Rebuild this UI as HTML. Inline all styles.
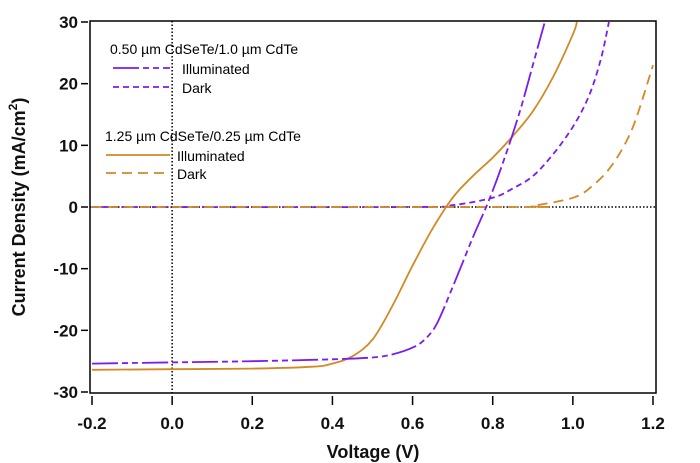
<!DOCTYPE html>
<html><head><meta charset="utf-8"><style>
html,body{margin:0;padding:0;background:#fff;}
svg{display:block;font-family:"Liberation Sans",sans-serif;}
</style></head><body>
<svg id="chart" width="700" height="463"></svg>
<script>
const xTicks=[-0.2,0.0,0.2,0.4,0.6,0.8,1.0,1.2];
const xTickLabels=["-0.2","0.0","0.2","0.4","0.6","0.8","1.0","1.2"];
const yTicks=[-30,-20,-10,0,10,20,30];
const yTickLabels=["-30","-20","-10","0","10","20","30"];
const vPurpleIll=[-0.2,0,0.2,0.4,0.5,0.55,0.6,0.63,0.66,0.7,0.75,0.79,0.83,0.87,0.9,0.93];
const jPurpleIll=[-25.4,-25.2,-25.0,-24.7,-24.4,-23.9,-22.8,-21.5,-19,-13,-5,1,8,16,23,30];
const vPurpleDark=[-0.2,0.6,0.7,0.8,0.85,0.9,0.95,1.0,1.04,1.07,1.09];
const jPurpleDark=[0,0,0.3,1.5,3,5,8.5,13,18,24,30];
const vOrangeIll=[-0.2,0,0.2,0.35,0.4,0.45,0.5,0.55,0.6,0.65,0.7,0.75,0.8,0.85,0.9,0.95,1.0,1.01];
const jOrangeIll=[-26.4,-26.3,-26.2,-25.9,-25.4,-24.2,-21.5,-16,-9.5,-3.5,1.5,5,8,11.5,15.5,21,28,30];
const vOrangeDark=[-0.2,0.85,0.9,1.0,1.05,1.1,1.15,1.2];
const jOrangeDark=[0,0,0.2,1.5,3.5,7,13,23];

const L=90,R=656,T=21,B=393;
const x=v=>92+(v+0.2)*(653-92)/1.4;
const y=j=>207-j*(185/30);
const svg=document.getElementById('chart');
const NS='http://www.w3.org/2000/svg';
function mk(tag,attrs){const e=document.createElementNS(NS,tag);for(const k in attrs)e.setAttribute(k,attrs[k]);svg.appendChild(e);return e;}

let e=mk('line',{x1:x(0),x2:x(0),y1:T,y2:B,stroke:'#000','stroke-width':1.5,'stroke-dasharray':'1.5,2'});


e=mk('line',{x1:L,x2:R,y1:y(0),y2:y(0),stroke:'#000','stroke-width':1.5,'stroke-dasharray':'1.5,2'});



function smoothPath(pts){
  let d='M'+pts[0][0].toFixed(1)+','+pts[0][1].toFixed(1);
  for(let i=0;i<pts.length-1;i++){
    const p0=pts[Math.max(0,i-1)],p1=pts[i],p2=pts[i+1],p3=pts[Math.min(pts.length-1,i+2)];
    const c1x=p1[0]+(p2[0]-p0[0])/6,c1y=p1[1]+(p2[1]-p0[1])/6;
    const c2x=p2[0]-(p3[0]-p1[0])/6,c2y=p2[1]-(p3[1]-p1[1])/6;
    d+=' C'+c1x.toFixed(1)+','+c1y.toFixed(1)+' '+c2x.toFixed(1)+','+c2y.toFixed(1)+' '+p2[0].toFixed(1)+','+p2[1].toFixed(1);
  }
  return d;
}
function series(vs,js,color,dash,name){
  const pts=vs.map((v,i)=>[x(v),y(js[i])]);
  const p=mk('path',{d:smoothPath(pts),fill:'none',stroke:color,'stroke-width':1.8,'stroke-dasharray':dash,'clip-path':'url(#plotclip)'});
  
  
}
const defs=mk('defs',{});
const cp=document.createElementNS(NS,'clipPath');cp.setAttribute('id','plotclip');
const cr=document.createElementNS(NS,'rect');cr.setAttribute('x',L);cr.setAttribute('y',T);cr.setAttribute('width',R-L);cr.setAttribute('height',B-T);
cp.appendChild(cr);defs.appendChild(cp);

series(vPurpleDark,jPurpleDark,'#7a1cf0','6,4','purple-dark-curve');
series(vOrangeDark,jOrangeDark,'#d18a25','10,6','orange-dark-curve');
series(vOrangeIll,jOrangeIll,'#d18a25','none','orange-illuminated-curve');
series(vPurpleIll,jPurpleIll,'#7a1cf0','26,4,6,4,6,4','purple-illuminated-curve');

e=mk('rect',{x:L,y:T,width:R-L,height:B-T,fill:'none',stroke:'#000','stroke-width':1.5});



xTicks.forEach((v,i)=>{
  mk('line',{x1:x(v),x2:x(v),y1:B+3,y2:B+12,stroke:'#000','stroke-width':1.5});
  const t=mk('text',{x:x(v),y:429,'text-anchor':'middle','font-size':17,'font-weight':'bold',fill:'#111'});
  t.textContent=xTickLabels[i];
  
  
});
yTicks.forEach((v,i)=>{
  mk('line',{x1:L-9,x2:L-2,y1:y(v),y2:y(v),stroke:'#000','stroke-width':1.5});
  const t=mk('text',{x:L-12,y:y(v)+6,'text-anchor':'end','font-size':17,'font-weight':'bold',fill:'#111'});
  t.textContent=yTickLabels[i];
  
  
});
let t=mk('text',{x:373,y:458,'text-anchor':'middle','font-size':18,'font-weight':'bold',fill:'#111'});
t.textContent='Voltage (V)';


t=mk('text',{x:0,y:0,'text-anchor':'middle','font-size':18,'font-weight':'bold',fill:'#111',transform:'translate(25,207) rotate(-90)'});
t.innerHTML='Current Density (mA/cm<tspan dy="-8" font-size="12">2</tspan><tspan dy="8">)</tspan>';



function ltext(s,xx,yy,name){const q=mk('text',{x:xx,y:yy,'font-size':14,fill:'#000'});q.textContent=s;}
function lline(x1,x2,yy,color,dash,name){const q=mk('line',{x1:x1,x2:x2,y1:yy,y2:yy,stroke:color,'stroke-width':1.8,'stroke-dasharray':dash});}
ltext('0.50 µm CdSeTe/1.0 µm CdTe',110,54,'legend-group1-title');
lline(113,170,68,'#7a1cf0','26,4,6,4,6,4','legend-purple-illuminated-line');
ltext('Illuminated',182,74,'legend-purple-illuminated-label');
lline(113,170,87,'#7a1cf0','6,4','legend-purple-dark-line');
ltext('Dark',182,93,'legend-purple-dark-label');
ltext('1.25 µm CdSeTe/0.25 µm CdTe',105,141,'legend-group2-title');
lline(106,170,155,'#d18a25','none','legend-orange-illuminated-line');
ltext('Illuminated',177,161,'legend-orange-illuminated-label');
lline(106,170,173,'#d18a25','10,6','legend-orange-dark-line');
ltext('Dark',177,179,'legend-orange-dark-label');
</script>
</body></html>
